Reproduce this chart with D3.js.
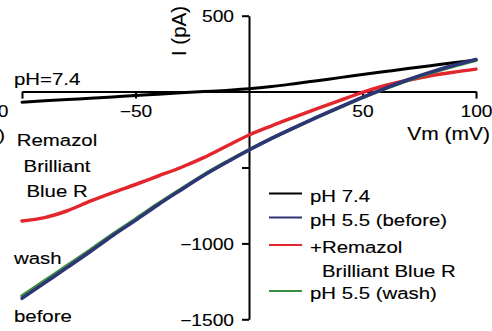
<!DOCTYPE html>
<html>
<head>
<meta charset="utf-8">
<script src="https://cdn.jsdelivr.net/npm/d3@7"></script>
<style>
  html, body { margin: 0; padding: 0; background: #fff; }
  svg { display: block; }
  text { font-family: "Liberation Sans", Arial, sans-serif; fill: #000; stroke: #000; stroke-width: 0.12px; }
</style>
</head>
<body>
<svg id="chart" width="492" height="331"></svg>
<script>
// ---- data (mV vs pA) ----
const voltages = [-100, -90, -80, -70, -60, -50, -40, -30, -20, -10, 0, 10, 20, 30, 40, 50, 60, 70, 80, 90, 100];
const ph74      = [-70, -61, -52, -44, -35, -25, -17, -8, 0, 8, 18, 33, 52, 72, 92, 112, 132, 152, 171, 190, 208];
const ph55Before= [-1362, -1260, -1158, -1055, -948, -848, -745, -648, -553, -467, -385, -308, -237, -168, -102, -38, 22, 78, 128, 172, 212];
const remazol   = [-852, -830, -785, -722, -665, -612, -556, -500, -435, -360, -286, -225, -168, -112, -58, -5, 40, 75, 105, 128, 148];
const ph55Wash  = [-1346, -1246, -1146, -1044, -939, -840, -739, -643, -549, -464, -383, -307, -237, -169, -104, -40, 19, 74, 123, 167, 207];

const xTicks = [-100, -50, 50, 100];
const yTicks = [500, -500, -1000, -1500];
const yTickLabels = {"500": "500", "-1000": "\u22121000", "-1500": "\u22121500"};

const legendLabels = [["pH 7.4"], ["pH 5.5 (before)"], ["+Remazol", "Brilliant Blue R"], ["pH 5.5 (wash)"]];
const seriesColors = ["#000000", "#2e3577", "#e3262d", "#3a8f3f"];

// ---- setup ----
const SX = 1.2; // horizontal text stretch seen in the reference
const svg = d3.select("#chart");
const x = d3.scaleLinear().domain([-100, 100]).range([22, 476]);
const y = d3.scaleLinear().domain([-1500, 500]).range([319.3, 15.7]);

function txt(px, py, s, anchor, size, rot) {
  const t = svg.append("text")
    .attr("transform", rot ? `translate(${px},${py}) rotate(-90)` : `translate(${px},${py}) scale(${SX},1)`)
    .attr("text-anchor", anchor || "start")
    .style("font-size", (size || 17) + "px")
    .text(s);
  return t;
}

// ---- axes ----
const xAxis = svg.append("g")
  .attr("transform", `translate(0,${y(0)})`)
  .call(d3.axisBottom(x).tickValues(xTicks).tickSize(7).tickSizeOuter(0)
    .tickFormat(d => d3.format("")(d).replace("-", "\u2212")));
xAxis.select(".domain").attr("stroke-width", 2);
xAxis.selectAll(".tick line").attr("stroke-width", 2);
xAxis.selectAll(".tick text")
  .attr("y", 25).attr("dy", 0)
  .style("font-size", "16px")
  .attr("transform", `scale(${SX},1)`);
xAxis.selectAll(".tick").filter(d => d === -100).select("text")
  .attr("text-anchor", "end").attr("x", (8 - 22) / SX);

const yAxis = svg.append("g")
  .attr("transform", `translate(${x(0)},0)`)
  .call(d3.axisLeft(y).tickValues(yTicks).tickSize(7).tickSizeOuter(0)
    .tickFormat(d => yTickLabels[String(d)] || ""));
yAxis.select(".domain").attr("stroke-width", 2);
yAxis.selectAll(".tick line").attr("stroke-width", 2);
yAxis.selectAll(".tick text")
  .attr("x", -15 / SX).attr("dy", "0.36em")
  .style("font-size", "16px")
  .attr("transform", `scale(${SX},1)`);
svg.selectAll("g").attr("font-family", null).attr("font-size", null);

// ---- axis titles ----
txt(490, 140, "Vm (mV)", "end", 17.5);
txt(186, 31, "I (pA)", "middle", 20.5, true);

// ---- curves ----
const line = d3.line().x((d, i) => x(voltages[i])).y(d => y(d)).curve(d3.curveMonotoneX);
const series = [ph74, remazol, ph55Wash, ph55Before];
const cols = [seriesColors[0], seriesColors[2], seriesColors[3], seriesColors[1]];
const widths = [3, 3.5, 3.5, 3.5];
series.forEach((s, k) => {
  svg.append("path").datum(s)
    .attr("d", line)
    .attr("fill", "none")
    .attr("stroke", cols[k])
    .attr("stroke-width", widths[k])
    .attr("stroke-linecap", "round");
});

// ---- annotations ----
txt(14, 85, "pH=7.4", "start", 17);
txt(5, 141, ")", "end", 17);
txt(57, 146, "Remazol", "middle", 17);
txt(57, 172, "Brilliant", "middle", 17);
txt(57, 197, "Blue R", "middle", 17);
txt(14, 264, "wash", "start", 17);
txt(14, 322, "before", "start", 17);

// ---- legend ----
const legRowY = [193.5, 217.5, 245, 291];
legendLabels.forEach((lab, i) => {
  svg.append("line")
    .attr("x1", 269).attr("x2", 302)
    .attr("y1", legRowY[i]).attr("y2", legRowY[i])
    .attr("stroke", seriesColors[i]).attr("stroke-width", 2.2);
  txt(310, legRowY[i] + 8, lab[0], "start", 17);
  if (lab[1]) txt(322, legRowY[i] + 32, lab[1], "start", 17);
});
</script>
</body>
</html>
